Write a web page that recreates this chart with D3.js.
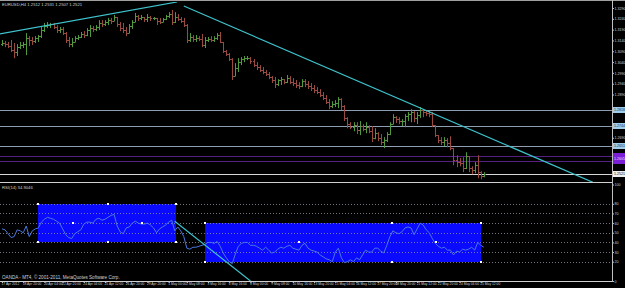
<!DOCTYPE html>
<html><head><meta charset="utf-8">
<script src="https://cdn.jsdelivr.net/npm/d3@7"></script>
<style>html,body{margin:0;padding:0;background:#000;overflow:hidden}svg{display:block}</style>
</head><body><svg id="c" width="625" height="288"></svg>
<script>
// ---------- DATA ----------
const symbolTitle = "EURUSD,H4  1.2512 1.2531 1.2507 1.2521";
const rsiTitle = "RSI(14) 34.9046";
const copyright = "OANDA - MT4, \u00A9 2001-2011, MetaQuotes Software Corp.";

const opens = [
1.3123,1.3128,1.3123,1.3114,1.3096,1.3086,1.3109,1.3119,1.3123,1.3151,
1.3142,1.3137,1.3151,1.3160,1.3188,1.3207,1.3211,1.3216,1.3202,1.3188,
1.3193,1.3174,1.3142,1.3123,1.3133,1.3151,1.3156,1.3170,1.3165,1.3188,
1.3197,1.3193,1.3202,1.3221,1.3216,1.3225,1.3234,1.3230,1.3248,1.3216,
1.3197,1.3188,1.3174,1.3207,1.3225,1.3253,1.3244,1.3248,1.3239,1.3248,
1.3244,1.3244,1.3230,1.3225,1.3239,1.3253,1.3262,1.3225,1.3248,1.3239,
1.3230,1.3211,1.3142,1.3156,1.3146,1.3151,1.3146,1.3119,1.3142,1.3146,
1.3142,1.3151,1.3165,1.3133,1.3091,1.3077,1.3054,1.2975,1.3012,1.3040,
1.3054,1.3058,1.3058,1.3045,1.3026,1.3017,1.3003,1.2994,1.2984,1.2971,
1.2957,1.2938,1.2957,1.2961,1.2947,1.2966,1.2947,1.2943,1.2934,1.2929,
1.2952,1.2938,1.2929,1.2920,1.2910,1.2901,1.2887,1.2873,1.2855,1.2836,
1.2846,1.2850,1.2869,1.2836,1.2781,1.2753,1.2739,1.2748,1.2725,1.2744,
1.2730,1.2739,1.2720,1.2688,1.2711,1.2688,1.2670,1.2679,1.2707,1.2753,
1.2785,1.2776,1.2767,1.2767,1.2790,1.2799,1.2809,1.2781,1.2795,1.2818,
1.2809,1.2804,1.2799,1.2748,1.2702,1.2679,1.2670,1.2679,1.2665,1.2642,
1.2586,1.2577,1.2572,1.2549,1.2605,1.2549,1.2540,1.2563,1.2531,1.2512];
const highs = [
1.3142,1.3137,1.3133,1.3142,1.3128,1.3123,1.3133,1.3133,1.3174,1.3160,
1.3156,1.3160,1.3165,1.3202,1.3221,1.3225,1.3221,1.3221,1.3211,1.3202,
1.3202,1.3179,1.3156,1.3151,1.3160,1.3165,1.3179,1.3183,1.3197,1.3211,
1.3207,1.3211,1.3234,1.3234,1.3234,1.3244,1.3244,1.3258,1.3248,1.3225,
1.3221,1.3202,1.3216,1.3234,1.3267,1.3258,1.3258,1.3248,1.3262,1.3253,
1.3248,1.3244,1.3244,1.3244,1.3258,1.3271,1.3281,1.3271,1.3262,1.3248,
1.3244,1.3216,1.3174,1.3165,1.3165,1.3160,1.3170,1.3156,1.3156,1.3160,
1.3160,1.3174,1.3179,1.3133,1.3096,1.3082,1.3058,1.3035,1.3058,1.3063,
1.3068,1.3068,1.3063,1.3054,1.3040,1.3026,1.3017,1.3003,1.2994,1.2975,
1.2971,1.2961,1.2971,1.2961,1.2980,1.2975,1.2966,1.2957,1.2947,1.2961,
1.2961,1.2952,1.2943,1.2934,1.2924,1.2915,1.2901,1.2887,1.2869,1.2859,
1.2864,1.2878,1.2873,1.2841,1.2785,1.2762,1.2762,1.2762,1.2767,1.2753,
1.2762,1.2748,1.2744,1.2734,1.2716,1.2707,1.2693,1.2716,1.2762,1.2799,
1.2790,1.2785,1.2776,1.2799,1.2809,1.2822,1.2813,1.2809,1.2832,1.2822,
1.2818,1.2813,1.2809,1.2748,1.2702,1.2693,1.2693,1.2688,1.2697,1.2642,
1.2609,1.2596,1.2600,1.2623,1.2605,1.2558,1.2577,1.2609,1.2535,1.2531];
const lows = [
1.3114,1.3109,1.3105,1.3086,1.3058,1.3068,1.3100,1.3105,1.3072,1.3114,
1.3119,1.3128,1.3133,1.3151,1.3179,1.3197,1.3197,1.3193,1.3174,1.3174,
1.3165,1.3128,1.3109,1.3109,1.3133,1.3142,1.3151,1.3151,1.3160,1.3156,
1.3179,1.3183,1.3188,1.3202,1.3207,1.3211,1.3216,1.3230,1.3202,1.3183,
1.3174,1.3160,1.3174,1.3193,1.3225,1.3230,1.3234,1.3225,1.3225,1.3230,
1.3234,1.3211,1.3216,1.3225,1.3234,1.3244,1.3211,1.3221,1.3230,1.3221,
1.3202,1.3128,1.3133,1.3133,1.3133,1.3137,1.3109,1.3105,1.3133,1.3133,
1.3133,1.3142,1.3128,1.3082,1.3068,1.3045,1.2957,1.2975,1.2994,1.3026,
1.3040,1.3049,1.3031,1.3017,1.3003,1.2994,1.2984,1.2975,1.2961,1.2943,
1.2920,1.2929,1.2934,1.2938,1.2943,1.2938,1.2929,1.2920,1.2915,1.2924,
1.2924,1.2915,1.2906,1.2896,1.2892,1.2878,1.2864,1.2846,1.2822,1.2827,
1.2832,1.2827,1.2818,1.2767,1.2734,1.2730,1.2720,1.2707,1.2702,1.2720,
1.2711,1.2711,1.2670,1.2683,1.2674,1.2656,1.2642,1.2670,1.2702,1.2753,
1.2758,1.2753,1.2744,1.2739,1.2767,1.2762,1.2762,1.2753,1.2781,1.2785,
1.2790,1.2785,1.2739,1.2693,1.2665,1.2656,1.2651,1.2646,1.2632,1.2563,
1.2554,1.2558,1.2531,1.2545,1.2531,1.2521,1.2526,1.2503,1.2498,1.2507];
const closes = [
1.3128,1.3123,1.3114,1.3096,1.3086,1.3109,1.3119,1.3123,1.3151,1.3142,
1.3137,1.3151,1.3160,1.3188,1.3207,1.3211,1.3216,1.3202,1.3188,1.3193,
1.3174,1.3142,1.3123,1.3133,1.3151,1.3156,1.3170,1.3165,1.3188,1.3197,
1.3193,1.3202,1.3221,1.3216,1.3225,1.3234,1.3230,1.3248,1.3216,1.3197,
1.3188,1.3174,1.3207,1.3225,1.3253,1.3244,1.3248,1.3239,1.3248,1.3244,
1.3244,1.3230,1.3225,1.3239,1.3253,1.3262,1.3225,1.3248,1.3239,1.3230,
1.3211,1.3142,1.3156,1.3146,1.3151,1.3146,1.3119,1.3142,1.3146,1.3142,
1.3151,1.3165,1.3133,1.3091,1.3077,1.3054,1.2975,1.3012,1.3040,1.3054,
1.3058,1.3058,1.3045,1.3026,1.3017,1.3003,1.2994,1.2984,1.2971,1.2957,
1.2938,1.2957,1.2961,1.2947,1.2966,1.2947,1.2943,1.2934,1.2929,1.2952,
1.2938,1.2929,1.2920,1.2910,1.2901,1.2887,1.2873,1.2855,1.2836,1.2846,
1.2850,1.2869,1.2836,1.2781,1.2753,1.2739,1.2748,1.2725,1.2744,1.2730,
1.2739,1.2720,1.2688,1.2711,1.2688,1.2670,1.2679,1.2707,1.2753,1.2785,
1.2776,1.2767,1.2767,1.2790,1.2799,1.2809,1.2781,1.2795,1.2818,1.2809,
1.2804,1.2799,1.2748,1.2702,1.2679,1.2670,1.2679,1.2665,1.2642,1.2586,
1.2577,1.2572,1.2549,1.2605,1.2549,1.2540,1.2563,1.2531,1.2512,1.2521];
const rsi = [
54,53,49,45,46,53,52,50,57,46,
52,54,55,61,64,66,65,64,62,60,
54,48,45,44,49,51,53,59,61,61,
60,64,65,63,64,66,68,69,57,51,
49,55,56,60,62,60,59,59,60,58,
55,50,54,56,58,61,63,52,56,52,
46,34,33,35,35,36,37,38,40,40,
39,41,36,29,24,20,18,28,36,39,
40,40,37,37,36,34,32,35,32,29,
30,33,35,34,36,37,34,33,32,37,
39,34,32,31,30,27,25,23,22,20,
30,34,24,19,20,22,20,24,22,27,
32,30,30,34,34,31,29,37,46,52,
50,49,51,55,56,55,48,54,60,58,
53,50,44,39,36,34,35,32,32,27,
31,30,33,32,33,35,32,40,37,35];

const priceTicks = [1.3290,1.3240,1.3190,1.3140,1.3090,1.3040,1.2990,1.2940,1.2890,1.2840,1.2790,1.2740,1.2690,1.2640,1.2590,1.2540,1.2490];
const rsiTicks = [100,80,70,60,50,40,30,20,0];
const rsiLevels = [80,70,60,50,40,30,20];
const timeTickBars = [0,7,14,20,27,34,41,48,55,61,68,75,82,89,96,103,110,117,124,130,137,144,151,158];
const timeTickLabels = ["17 Apr 2012","18 Apr 20:00","20 Apr 04:00","22 Apr 20:00","24 Apr 04:00","25 Apr 12:00","26 Apr 20:00","29 Apr 20:00","1 May 00:00","2 May 08:00","3 May 16:00","6 May 16:00","8 May 00:00","9 May 08:00","10 May 16:00","13 May 20:00","15 May 04:00","16 May 12:00","17 May 20:00","18 May 20:00","21 May 12:00","22 May 20:00","24 May 04:00","25 May 12:00"];

// chart objects (bar index / price or rsi value)
const hLevels = [1.2818, 1.2744, 1.2651];
const purpleLevels = [1.2605, 1.2582];
const bidPrice = 1.2521;
const trendLines = [
  {b1:-0.7, p1:1.3170, b2:57.8, p2:1.3318},
  {b1:60, p1:1.3299, b2:195, p2:1.2484}
];
const rsiTrend = {b1:57, v1:62, b2:82, v2:0};
const rsiBoxes = [
  {b1:12, b2:35, top:80, bottom:40},
  {b1:35, b2:57.5, top:80, bottom:40},
  {b1:67, b2:128.7, top:60, bottom:20},
  {b1:128.7, b2:158, top:60, bottom:20}
];

// ---------- LAYOUT ----------
const W = 625, H = 288, R = 612;
const mainTop = 2, mainBot = 182, rsiTop = 183, rsiBot = 281;
const font = "Liberation Sans, Arial, sans-serif";
const svg = d3.select("#c");
svg.append("rect").attr("width",W).attr("height",H).attr("fill","#000");

const x = d3.scaleLinear().domain([0, 159]).range([2, 483.8]);
const y = d3.scaleLinear().domain([1.2490, 1.3290]).range([181, 8]);
const yr = d3.scaleLinear().domain([0, 100]).range([281, 184.5]);
const px = v => Math.round(v) + 0.5;

const defs = svg.append("defs");
defs.append("clipPath").attr("id","cm").append("rect").attr("x",0).attr("y",mainTop).attr("width",R).attr("height",mainBot-mainTop);
defs.append("clipPath").attr("id","cr").append("rect").attr("x",0).attr("y",rsiTop).attr("width",R).attr("height",rsiBot-rsiTop);

// ---------- MAIN PANEL ----------
const gm = svg.append("g").attr("clip-path","url(#cm)");
gm.selectAll("line.h").data(hLevels).join("line")
  .attr("x1",0).attr("x2",R).attr("y1",d=>px(y(d))).attr("y2",d=>px(y(d)))
  .attr("stroke","#8e9eb0").attr("stroke-width",1);
gm.selectAll("line.p").data(purpleLevels).join("line")
  .attr("x1",0).attr("x2",R).attr("y1",d=>px(y(d))).attr("y2",d=>px(y(d)))
  .attr("stroke","#55207f").attr("stroke-width",1.2);
gm.append("line").attr("x1",0).attr("x2",R).attr("y1",px(y(bidPrice))).attr("y2",px(y(bidPrice)))
  .attr("stroke","#d8d8d8").attr("stroke-width",1);

const idx = d3.range(closes.length);
const up = i => closes[i] >= opens[i];
const colUp = "#4f9a3c", colDn = "#9a4a3e";
const bars = gm.append("g");
bars.selectAll("line.v").data(idx).join("line")
  .attr("x1",i=>px(x(i))).attr("x2",i=>px(x(i)))
  .attr("y1",i=>y(highs[i])).attr("y2",i=>y(lows[i]))
  .attr("stroke",i=>up(i)?colUp:colDn).attr("stroke-width",1);
bars.selectAll("line.o").data(idx).join("line")
  .attr("x1",i=>px(x(i))-1.5).attr("x2",i=>px(x(i)))
  .attr("y1",i=>px(y(opens[i]))).attr("y2",i=>px(y(opens[i])))
  .attr("stroke",i=>up(i)?colUp:colDn).attr("stroke-width",1);
bars.selectAll("line.c").data(idx).join("line")
  .attr("x1",i=>px(x(i))).attr("x2",i=>px(x(i))+1.5)
  .attr("y1",i=>px(y(closes[i]))).attr("y2",i=>px(y(closes[i])))
  .attr("stroke",i=>up(i)?colUp:colDn).attr("stroke-width",1);

gm.selectAll("line.t").data(trendLines).join("line")
  .attr("x1",d=>x(d.b1)).attr("y1",d=>y(d.p1)).attr("x2",d=>x(d.b2)).attr("y2",d=>y(d.p2))
  .attr("stroke","#3ec3cc").attr("stroke-width",1.2);

// ---------- RSI PANEL ----------
const gr = svg.append("g").attr("clip-path","url(#cr)");
gr.selectAll("rect.box").data(rsiBoxes).join("rect")
  .attr("x",d=>Math.round(x(d.b1))).attr("y",d=>Math.round(yr(d.top)))
  .attr("width",d=>Math.round(x(d.b2))-Math.round(x(d.b1))).attr("height",d=>Math.round(yr(d.bottom))-Math.round(yr(d.top)))
  .attr("fill","#0a0aff");
gr.selectAll("line.lv").data(rsiLevels).join("line")
  .attr("x1",0).attr("x2",R).attr("y1",d=>px(yr(d))).attr("y2",d=>px(yr(d)))
  .attr("stroke","#9a9aa8").attr("stroke-width",1).attr("stroke-dasharray","1,2").attr("opacity",0.75);
gr.append("path").datum(idx)
  .attr("d", d3.line().x(i=>x(i)).y(i=>yr(rsi[i])))
  .attr("fill","none").attr("stroke","#4b78e0").attr("stroke-width",1);
gr.append("line").attr("x1",x(rsiTrend.b1)).attr("y1",yr(rsiTrend.v1)).attr("x2",x(rsiTrend.b2)).attr("y2",yr(rsiTrend.v2))
  .attr("stroke","#3ec3cc").attr("stroke-width",1.2);
const anchors = [];
rsiBoxes.forEach(d=>{
  [[d.b1,d.top],[d.b2,d.top],[d.b1,d.bottom],[d.b2,d.bottom],[(d.b1+d.b2)/2,(d.top+d.bottom)/2]].forEach(a=>anchors.push(a));
});
gr.selectAll("rect.a").data(anchors).join("rect")
  .attr("x",d=>Math.round(x(d[0]))-1).attr("y",d=>Math.round(yr(d[1]))-1)
  .attr("width",2).attr("height",2).attr("fill","#fff");

// ---------- FRAMES ----------
svg.append("line").attr("x1",0).attr("x2",W).attr("y1",0.5).attr("y2",0.5).attr("stroke","#a0a0a0");
svg.append("line").attr("x1",0).attr("x2",R).attr("y1",182.5).attr("y2",182.5).attr("stroke","#d0d0d0");
svg.append("line").attr("x1",0).attr("x2",R+1).attr("y1",281.5).attr("y2",281.5).attr("stroke","#d0d0d0");
svg.append("line").attr("x1",R+0.5).attr("x2",R+0.5).attr("y1",0).attr("y2",282).attr("stroke","#c0c0c0");

// ---------- AXES ----------
const fs = 3.6;
const tagPrices = hLevels.concat(purpleLevels, [bidPrice]);
const shownPriceTicks = priceTicks.filter(p => y(p) < 179 && tagPrices.every(t => Math.abs(y(t) - y(p)) > 6.5));
const axP = svg.append("g").attr("transform",`translate(${R+0.5},0)`)
  .call(d3.axisRight(y).tickValues(shownPriceTicks).tickSize(1.5).tickPadding(0.5).tickFormat(d3.format(".4f")));
const axR = svg.append("g").attr("transform",`translate(${R+0.5},0)`)
  .call(d3.axisRight(yr).tickValues(rsiTicks).tickSize(1.5).tickPadding(0.5).tickFormat(d3.format("d")));
[axP, axR].forEach(a=>{
  a.select(".domain").remove();
  a.selectAll("line").attr("stroke","#c0c0c0");
  a.selectAll("text").attr("fill","#d0d0d0").attr("font-size",fs).attr("font-family",font);
});
const axT = svg.append("g").attr("transform",`translate(0,${rsiBot+0.5})`)
  .call(d3.axisBottom(x).tickValues(timeTickBars).tickSize(1.5).tickPadding(0).tickFormat((d,i)=>timeTickLabels[i]));
axT.select(".domain").remove();
axT.selectAll("line").attr("stroke","#c0c0c0");
axT.selectAll("text").attr("fill","#d0d0d0").attr("font-size",3.3).attr("font-family",font)
  .attr("text-anchor","start").attr("dx",-1).attr("dy","0.75em");

// highlighted price labels on axis
function tag(price, bg, fg, lowPrice){
  const yt = Math.round(y(price)) - 3;
  const yb = Math.round(y(lowPrice === undefined ? price : lowPrice)) + 3;
  const g = svg.append("g");
  g.append("rect").attr("x",R+1).attr("y",yt).attr("width",W-R-1).attr("height",yb-yt).attr("fill",bg);
  g.append("text").attr("x",R+2).attr("y",(yt+yb)/2+1.3).attr("font-size",fs).attr("font-family",font).attr("fill",fg).text(d3.format(".4f")(price));
}
hLevels.forEach(p=>tag(p,"#9fcdea","#203040"));
tag(purpleLevels[0],"#7b1fd6","#e8dcff",purpleLevels[1]);
tag(bidPrice,"#f0f0f0","#000");

// ---------- TEXTS ----------
svg.append("text").attr("x",2).attr("y",6).attr("font-size",4.2).attr("font-family",font).attr("fill","#d0d0d0").text(symbolTitle);
svg.append("text").attr("x",2).attr("y",189).attr("font-size",4.2).attr("font-family",font).attr("fill","#d0d0d0").text(rsiTitle);
svg.append("text").attr("x",2).attr("y",279).attr("font-size",4.6).attr("font-family",font).attr("fill","#d0d0d0").text(copyright);
</script>
</body></html>
